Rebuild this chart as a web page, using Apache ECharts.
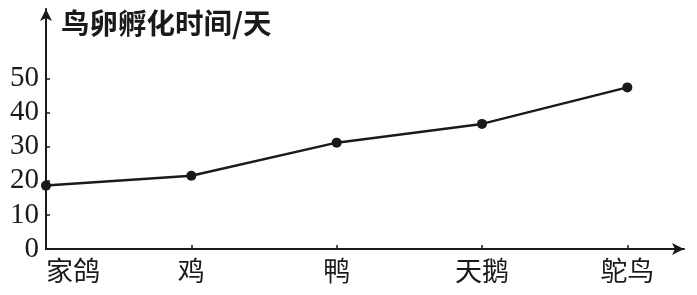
<!DOCTYPE html>
<html><head><meta charset="utf-8">
<script src="https://cdn.jsdelivr.net/npm/echarts@6/dist/echarts.min.js"></script>
<style>html,body{margin:0;padding:0;background:#fff}#c{width:697px;height:295px}</style>
</head><body><div id="c"></div>
<script>
const categories = ['家鸽', '鸡', '鸭', '天鹅', '鸵鸟'];
const hatchDays = [18.6, 21.5, 31.2, 36.7, 47.4];
const yTicks = [0, 10, 20, 30, 40, 50];
const titleText = '鸟卵孵化时间/天';

const chart = echarts.init(document.getElementById('c'));
const ink = '#1a1a1a';
chart.setOption({
  animation: false,
  backgroundColor: '#fff',
  title: {
    text: titleText, left: 56, top: 4,
    textStyle: { fontFamily: 'Noto Sans CJK SC', fontSize: 28.5, fontWeight: 'bold', color: ink }
  },
  grid: { left: 46, right: 13, top: 9, bottom: 46 },
  xAxis: {
    type: 'value', min: 0, max: 4.39, interval: 1,
    splitLine: { show: false },
    axisLine: { lineStyle: { color: ink, width: 2 }, symbol: ['none', 'arrow'], symbolSize: [9, 12] },
    axisTick: { show: true, inside: true, length: 4, lineStyle: { color: ink, width: 1.5 }, customValues: [0, 1, 2, 3, 4] },
    axisLabel: {
      customValues: [0, 1, 2, 3, 4],
      formatter: v => categories[v] || '',
      margin: 8, alignMinLabel: 'left',
      fontFamily: 'Noto Sans CJK SC', fontSize: 27, color: ink
    }
  },
  yAxis: {
    type: 'value', min: 0, max: 70.4, interval: 10,
    splitLine: { show: false },
    axisLine: { show: true, lineStyle: { color: ink, width: 2 }, symbol: ['none', 'arrow'], symbolSize: [9, 12] },
    axisTick: { show: true, inside: true, length: 4, lineStyle: { color: ink, width: 1.5 }, customValues: yTicks },
    axisLabel: {
      customValues: yTicks, margin: 7,
      fontFamily: 'Liberation Serif', fontSize: 29, color: ink
    }
  },
  series: [{
    type: 'line',
    data: hatchDays.map((v, i) => [i, v]),
    symbol: 'circle', symbolSize: 10,
    lineStyle: { color: ink, width: 2.5 },
    itemStyle: { color: ink }
  }]
});
</script></body></html>
